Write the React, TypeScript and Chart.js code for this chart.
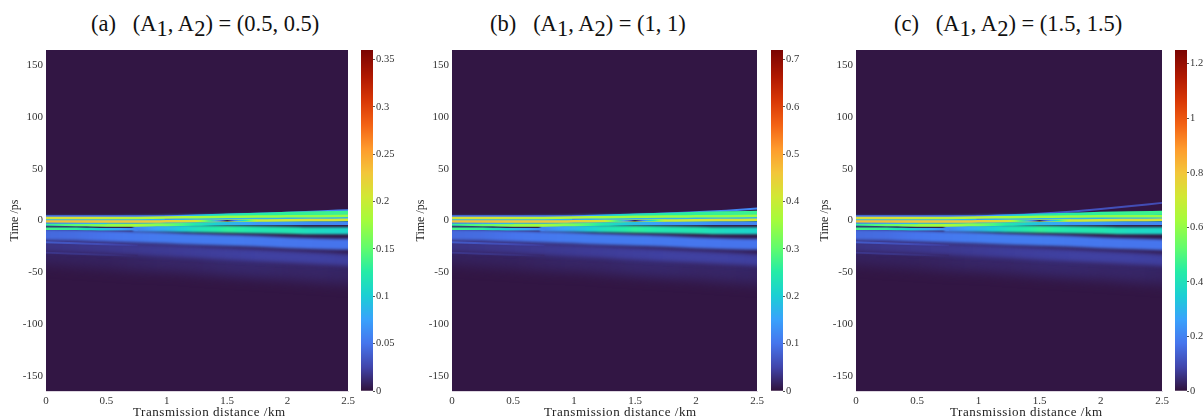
import React, { useEffect, useRef } from "react";
import { Chart, registerables } from "chart.js";
Chart.register(...registerables);

const n = null;
const distances = [0, 0.25, 0.5, 0.75, 1, 1.25, 1.5, 1.75, 2, 2.25, 2.5];

// Each row is one streak of the field: time (ps) at each distance, then its intensity.
const timesA = [
  [-30, -32, -34, -36, -37, -39, -41, -43, -45, -47, -49],
  [-24, -25, -26, -27.5, -29, -30.5, -32, -33.5, -35, -36.5, -38],
  [-13.5, -14, -15, -16, -17, -18, -19, -20, -21.5, -22.5, -23],
  [n, n, n, -7.5, -7.5, -8, -8.5, -9, -9.5, -10, -10],
  [-8, -8, -8.5, -8.5, n, n, n, n, n, n, n],
  [-0.5, -0.5, -0.5, -0.2, 0.2, 0.6, 1, 1.5, 2, 2.5, 3],
  [-3.5, -4, -4.5, -4.5, -4, -3.5, -3, -3, -3, -3, -3],
  [4, 4, 4, 4, 4.2, 4.5, 5.5, 6.5, 7.5, 8.7, 10],
  [n, n, n, n, 3, 3.8, 4.8, 5.6, 6.4, 7, 7.5],
  [2.3, 2.3, 2.3, 2.5, 3, 3.2, 3.5, 3.8, 4, 4.2, 4.5],
  [-1, -1, -1, -1, -0.8, -0.5, -0.3, 0, 0.3, 0.5, 0.7],
  [-2.6, -2.8, -3, n, n, n, n, n, n, n, n],
  [-21, -22, -23, -24, n, n, n, n, n, n, n],
  [-31, -32, -33, -34, n, n, n, n, n, n, n],
  [n, n, n, n, n, -0.5, -0.3, 0, n, n, n],
];
const valuesA = [
  [0.008, 0.008, 0.008, 0.009, 0.01, 0.01, 0.011, 0.011, 0.01, 0.01, 0.009],
  [0.016, 0.017, 0.018, 0.019, 0.02, 0.021, 0.022, 0.023, 0.023, 0.023, 0.022],
  [0.044, 0.046, 0.05, 0.052, 0.054, 0.054, 0.054, 0.052, 0.051, 0.05, 0.05],
  [n, n, n, 0.06, 0.085, 0.115, 0.13, 0.12, 0.12, 0.11, 0.105],
  [0.14, 0.13, 0.09, 0.06, n, n, n, n, n, n, n],
  [0.085, 0.085, 0.085, 0.085, 0.085, 0.085, 0.085, 0.085, 0.085, 0.085, 0.085],
  [0.13, 0.15, 0.17, 0.18, 0.16, 0.12, 0.09, 0.07, 0.07, 0.06, 0.06],
  [0.05, 0.05, 0.05, 0.05, 0.05, 0.05, 0.05, 0.05, 0.055, 0.06, 0.06],
  [n, n, n, n, 0.05, 0.09, 0.115, 0.125, 0.13, 0.135, 0.135],
  [0.21, 0.21, 0.2, 0.19, 0.19, 0.18, 0.175, 0.175, 0.17, 0.17, 0.175],
  [0.235, 0.235, 0.23, 0.23, 0.225, 0.21, 0.2, 0.2, 0.205, 0.21, 0.205],
  [0.05, 0.07, 0.09, n, n, n, n, n, n, n, n],
  [0.036, 0.032, 0.027, 0.02, n, n, n, n, n, n, n],
  [0.018, 0.017, 0.015, 0.011, n, n, n, n, n, n, n],
  [n, n, n, n, n, 0.2, 0.005, 0.2, n, n, n],
];

const timesB = [
  [-30, -32, -34, -36, -37, -39, -41, -43, -45, -47, -49],
  [-24, -25, -26, -27.5, -29, -30.5, -32, -33.5, -35, -36.5, -38],
  [-13.5, -14, -15, -16, -17, -18, -19, -20, -21.5, -22.5, -23],
  [n, n, n, -7.5, -7.5, -8, -8.5, -9, -9.5, -10, -10],
  [-8, -8, -8.5, -8.5, n, n, n, n, n, n, n],
  [-0.5, -0.5, -0.5, -0.2, 0.2, 0.6, 1, 1.5, 2, 2.5, 3],
  [-3.5, -4, -4.5, -4.5, -4, -3.5, -3, -3, -3, -3, -3],
  [4, 4, 4, 4, 4.2, 4.5, 5.5, 6.7, 8, 9.5, 11.5],
  [n, n, n, n, 3, 3.8, 4.8, 5.6, 6.4, 7, 7.5],
  [2.3, 2.3, 2.3, 2.5, 3, 3.2, 3.5, 3.8, 4, 4.2, 4.5],
  [-1, -1, -1, -1, -0.8, -0.5, -0.3, 0, 0.3, 0.5, 0.7],
  [-2.6, -2.8, -3, n, n, n, n, n, n, n, n],
  [-21, -22, -23, -24, n, n, n, n, n, n, n],
  [-31, -32, -33, -34, n, n, n, n, n, n, n],
  [n, n, n, n, n, -0.5, -0.3, 0, n, n, n],
];
const valuesB = [
  [0.016, 0.016, 0.016, 0.018, 0.02, 0.02, 0.022, 0.022, 0.02, 0.02, 0.018],
  [0.032, 0.034, 0.036, 0.038, 0.04, 0.042, 0.044, 0.046, 0.046, 0.046, 0.044],
  [0.088, 0.092, 0.1, 0.104, 0.108, 0.108, 0.108, 0.104, 0.102, 0.1, 0.1],
  [n, n, n, 0.12, 0.17, 0.23, 0.26, 0.24, 0.24, 0.22, 0.21],
  [0.28, 0.26, 0.18, 0.12, n, n, n, n, n, n, n],
  [0.17, 0.17, 0.17, 0.17, 0.17, 0.17, 0.17, 0.17, 0.17, 0.17, 0.17],
  [0.26, 0.3, 0.34, 0.36, 0.32, 0.24, 0.18, 0.14, 0.14, 0.12, 0.12],
  [0.1, 0.1, 0.1, 0.1, 0.1, 0.1, 0.1, 0.1, 0.11, 0.12, 0.12],
  [n, n, n, n, 0.1, 0.18, 0.23, 0.25, 0.26, 0.27, 0.27],
  [0.42, 0.42, 0.4, 0.38, 0.38, 0.36, 0.35, 0.35, 0.34, 0.34, 0.35],
  [0.47, 0.47, 0.46, 0.46, 0.45, 0.42, 0.4, 0.4, 0.41, 0.42, 0.41],
  [0.1, 0.14, 0.18, n, n, n, n, n, n, n, n],
  [0.072, 0.064, 0.054, 0.04, n, n, n, n, n, n, n],
  [0.036, 0.034, 0.03, 0.022, n, n, n, n, n, n, n],
  [n, n, n, n, n, 0.4, 0.01, 0.4, n, n, n],
];

const timesC = [
  [-30, -32, -34, -36, -37, -39, -41, -43, -45, -47, -49],
  [-24, -25, -26, -27.5, -29, -30.5, -32, -33.5, -35, -36.5, -38],
  [-13.5, -14, -15, -16, -17, -18, -19, -20, -21.5, -22.5, -23.5],
  [n, n, n, -7.5, -7.5, -8, -8.5, -9, -9.5, -10, -10],
  [-8, -8, -8.5, -8.5, n, n, n, n, n, n, n],
  [-0.5, -0.5, -0.5, -0.2, 0.2, 0.6, 1, 1.5, 2, 2.5, 3],
  [-3.5, -4, -4.5, -4.5, -4, -3.5, -3, -3, -3, -3, -3],
  [4, 4, 4, 4, 4.2, 5, 6.5, 8.5, 11, 14, 17],
  [n, n, n, n, 3, 3.8, 4.8, 5.6, 6.4, 7, 7.5],
  [2.3, 2.3, 2.3, 2.5, 3, 3.2, 3.5, 3.8, 4, 4, 4],
  [-1, -1, -1, -1, -0.8, -0.5, -0.3, 0, 0.3, 0.5, 0.7],
  [-2.6, -2.8, -3, n, n, n, n, n, n, n, n],
  [-21, -22, -23, -24, n, n, n, n, n, n, n],
  [-31, -32, -33, -34, n, n, n, n, n, n, n],
  [n, n, n, n, n, -0.5, -0.3, 0, n, n, n],
];
const valuesC = [
  [0.028, 0.028, 0.028, 0.031, 0.035, 0.035, 0.038, 0.038, 0.035, 0.035, 0.031],
  [0.056, 0.06, 0.063, 0.066, 0.07, 0.074, 0.077, 0.08, 0.08, 0.08, 0.077],
  [0.154, 0.16, 0.175, 0.182, 0.19, 0.19, 0.19, 0.182, 0.178, 0.175, 0.175],
  [n, n, n, 0.21, 0.3, 0.4, 0.455, 0.42, 0.42, 0.385, 0.37],
  [0.49, 0.455, 0.315, 0.21, n, n, n, n, n, n, n],
  [0.3, 0.3, 0.3, 0.3, 0.3, 0.3, 0.3, 0.3, 0.3, 0.3, 0.3],
  [0.455, 0.525, 0.595, 0.63, 0.56, 0.42, 0.315, 0.245, 0.245, 0.21, 0.21],
  [0.175, 0.175, 0.175, 0.175, 0.175, 0.16, 0.14, 0.12, 0.11, 0.1, 0.1],
  [n, n, n, n, 0.175, 0.315, 0.4, 0.44, 0.455, 0.47, 0.47],
  [0.735, 0.735, 0.7, 0.665, 0.665, 0.63, 0.61, 0.61, 0.595, 0.595, 0.61],
  [0.82, 0.82, 0.8, 0.8, 0.79, 0.735, 0.7, 0.7, 0.72, 0.735, 0.72],
  [0.175, 0.245, 0.315, n, n, n, n, n, n, n, n],
  [0.126, 0.112, 0.095, 0.07, n, n, n, n, n, n, n],
  [0.063, 0.06, 0.052, 0.038, n, n, n, n, n, n, n],
  [n, n, n, n, n, 0.7, 0.018, 0.7, n, n, n],
];

const barMaxA = 0.36;
const barMaxB = 0.72;
const barMaxC = 1.25;
const barStepA = 0.05;
const barStepB = 0.1;
const barStepC = 0.2;

const SERIF = "'Liberation Serif', serif";
const STREAK_WIDTHS = [26, 12, 11, 7, 2.5, 9, 3, 2, 4, 2.5, 2.5, 1, 2, 2, 1.5];
const TURBO = [
  [0, 48, 18, 59], [0.07, 65, 69, 171], [0.14, 70, 117, 237], [0.21, 57, 162, 252],
  [0.28, 27, 207, 212], [0.35, 36, 236, 166], [0.42, 97, 252, 108], [0.5, 164, 252, 59],
  [0.57, 209, 232, 52], [0.64, 243, 198, 58], [0.71, 254, 155, 45], [0.78, 243, 99, 21],
  [0.85, 217, 56, 6], [0.92, 177, 25, 1], [1, 122, 4, 2],
];

function turbo(f: number) {
  const v = Math.max(0, Math.min(1, f));
  for (let i = 1; i < TURBO.length; i++) {
    if (v <= TURBO[i][0]) {
      const a = TURBO[i - 1];
      const b = TURBO[i];
      const k = (v - a[0]) / (b[0] - a[0]);
      const c = [1, 2, 3].map((j) => Math.round(a[j] + (b[j] - a[j]) * k));
      return `rgb(${c[0]},${c[1]},${c[2]})`;
    }
  }
  return "rgb(122,4,2)";
}

const tickText = (v: any) => String(Number(Number(v).toFixed(2)));

const fieldPlugin = {
  id: "field",
  beforeDatasetsDraw(chart: any) {
    const { ctx, chartArea: a } = chart;
    ctx.save();
    ctx.fillStyle = "rgb(50,22,68)";
    ctx.fillRect(a.left, a.top, a.right - a.left, a.bottom - a.top);
    ctx.restore();
  },
  beforeDatasetDraw(chart: any, args: any) {
    const w = STREAK_WIDTHS[args.index];
    const blur = w > 20 ? 6 : Math.max(0.6, w * 0.16);
    chart.ctx.filter = `blur(${blur}px)`;
  },
  afterDatasetDraw(chart: any) {
    chart.ctx.filter = "none";
  },
};

function streakColor(context: any, vals: (number | null)[], max: number) {
  const chart = context.chart;
  if (!chart.chartArea || !chart.scales.x) return turbo(0);
  const sx = chart.scales.x;
  const x0 = sx.getPixelForValue(0);
  const x1 = sx.getPixelForValue(2.5);
  const g = chart.ctx.createLinearGradient(x0, 0, x1, 0);
  for (let i = 0; i < vals.length; i++) {
    const a = vals[i];
    if (a === null) continue;
    const b = i + 1 < vals.length ? vals[i + 1] : null;
    const da = distances[i] / 2.5;
    if (b === null) {
      g.addColorStop(da, turbo(a / max));
      continue;
    }
    const db = distances[i + 1] / 2.5;
    for (let s = 0; s < 8; s++) {
      const k = s / 8;
      g.addColorStop(da + (db - da) * k, turbo((a + (b - a) * k) / max));
    }
  }
  return g;
}

function Panel({ left, right, barLeft, barMax, barStep, times, values }: any) {
  const mainRef = useRef<HTMLCanvasElement>(null);
  const barRef = useRef<HTMLCanvasElement>(null);
  useEffect(() => {
    const tickFont = { family: SERIF, size: 11 };
    const main = new Chart(mainRef.current as HTMLCanvasElement, {
      type: "line",
      data: {
        datasets: times.map((row: (number | null)[], i: number) => ({
          data: row.map((t, j) => ({ x: distances[j], y: t })),
          borderWidth: STREAK_WIDTHS[i],
          borderColor: (c: any) => streakColor(c, values[i], barMax),
          pointRadius: 0,
          borderCapStyle: "square",
          cubicInterpolationMode: "monotone",
          order: times.length - i,
          spanGaps: false,
        })),
      },
      options: {
        animation: false,
        responsive: false,
        layout: { padding: { top: 10, right: 12, left: 0, bottom: 0 } },
        plugins: { legend: { display: false }, tooltip: { enabled: false } },
        scales: {
          x: {
            type: "linear",
            min: 0,
            max: 2.5,
            grid: { display: true, drawOnChartArea: false, drawTicks: false },
            border: { color: "#ddd6e0" },
            ticks: { stepSize: 0.5, color: "#333", font: tickFont, padding: 4, maxRotation: 0, callback: tickText },
            afterFit: (s: any) => { s.height = 26; },
          },
          y: {
            type: "linear",
            min: -164.5,
            max: 164.5,
            grid: { display: true, drawOnChartArea: false, drawTicks: false },
            border: { color: "#ddd6e0" },
            ticks: { stepSize: 50, color: "#333", font: tickFont, padding: 3, includeBounds: false, callback: tickText },
            title: { display: true, text: "Time /ps", color: "#222", font: { family: SERIF, size: 12 }, padding: { top: 8, bottom: 0 } },
            afterFit: (s: any) => { s.width = 46; },
          },
        },
      },
      plugins: [fieldPlugin],
    } as any);

    const bar = new Chart(barRef.current as HTMLCanvasElement, {
      type: "bar",
      data: {
        labels: [""],
        datasets: [{
          data: [barMax],
          barPercentage: 1,
          categoryPercentage: 1,
          backgroundColor: (c: any) => {
            const ch = c.chart;
            if (!ch.chartArea || !ch.scales.y) return turbo(0.5);
            const g = ch.ctx.createLinearGradient(0, ch.scales.y.getPixelForValue(0), 0, ch.scales.y.getPixelForValue(barMax));
            TURBO.forEach((s) => g.addColorStop(s[0], `rgb(${s[1]},${s[2]},${s[3]})`));
            return g;
          },
        }],
      },
      options: {
        animation: false,
        responsive: false,
        layout: { padding: { top: 10, bottom: 10, left: 0, right: 0 } },
        plugins: { legend: { display: false }, tooltip: { enabled: false } },
        scales: {
          x: { display: false },
          y: {
            position: "right",
            min: 0,
            max: barMax,
            grid: { drawOnChartArea: false, tickLength: 2, tickColor: "#555" },
            border: { display: false },
            ticks: { stepSize: barStep, color: "#333", font: { family: SERIF, size: 10.5 }, padding: 1, includeBounds: false, callback: tickText },
            afterFit: (s: any) => { s.width = 43; },
          },
        },
      },
    } as any);
    return () => { main.destroy(); bar.destroy(); };
  }, []);
  const canvasLeft = left - 46;
  return (
    <>
      <canvas ref={mainRef} width={right + 12 - canvasLeft} height={377}
        style={{ position: "absolute", left: canvasLeft, top: 40, width: right + 12 - canvasLeft, height: 377 }} />
      <canvas ref={barRef} width={55} height={361}
        style={{ position: "absolute", left: barLeft, top: 40, width: 55, height: 361 }} />
    </>
  );
}

const sub: React.CSSProperties = { position: "relative", top: 5 };

function Title({ left, tag, values }: { left: number; tag: string; values: string }) {
  return (
    <div style={{ position: "absolute", left, top: 11, fontFamily: SERIF, fontSize: 22.5, color: "#111", whiteSpace: "pre" }}>
      {tag}{"   "}(A<span style={sub}>1</span>, A<span style={sub}>2</span>) = {values}
    </div>
  );
}

function XLabel({ left }: { left: number }) {
  return (
    <div style={{ position: "absolute", left, top: 404, fontFamily: SERIF, fontSize: 13, letterSpacing: 0.55, color: "#222", whiteSpace: "pre", lineHeight: "16px" }}>
      Transmission distance /km
    </div>
  );
}

export default function App() {
  return (
    <div style={{ position: "absolute", left: 0, top: 0, width: 1203, height: 417, overflow: "hidden", background: "#fff" }}>
      <Title left={91} tag="(a)" values="(0.5, 0.5)" />
      <Title left={490} tag="(b)" values="(1, 1)" />
      <Title left={894} tag="(c)" values="(1.5, 1.5)" />
      <Panel left={46} right={348} barLeft={361} barMax={barMaxA} barStep={barStepA} times={timesA} values={valuesA} />
      <Panel left={452} right={757} barLeft={771} barMax={barMaxB} barStep={barStepB} times={timesB} values={valuesB} />
      <Panel left={856} right={1162} barLeft={1175} barMax={barMaxC} barStep={barStepC} times={timesC} values={valuesC} />
      <XLabel left={133} />
      <XLabel left={544} />
      <XLabel left={950} />
    </div>
  );
}
